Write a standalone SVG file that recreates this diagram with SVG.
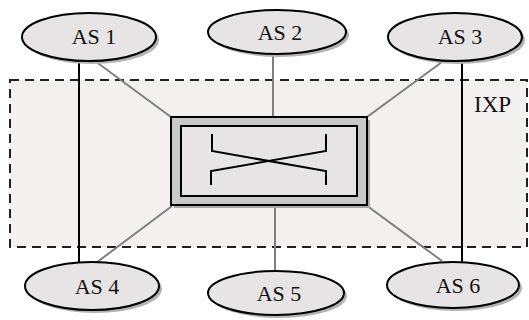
<svg xmlns="http://www.w3.org/2000/svg" width="529" height="320" viewBox="0 0 529 320">
<style>
.as ellipse.body{fill:#e6e4e4;stroke:#000;stroke-width:2}
.as ellipse.sh{fill:#b4b2b2}
.as text{font-family:"Liberation Serif","Times New Roman",serif;font-size:22px;fill:#111;text-anchor:middle}
.gl{stroke:#7f7f7f;stroke-width:2;fill:none}
.bl{stroke:#000;stroke-width:2;fill:none}
</style>
<rect x="10" y="80" width="517" height="167" fill="#f3f1f0" stroke="#231f20" stroke-width="2" stroke-dasharray="9,6"/>
<text x="474" y="112" font-family="Liberation Serif, serif" font-size="23" fill="#111">IXP</text>
<g id="connectors">
<line class="bl" x1="79" y1="61" x2="79" y2="263"/>
<line class="bl" x1="462" y1="61" x2="462" y2="262"/>
<line class="gl" x1="95" y1="61" x2="171" y2="117"/>
<line class="gl" x1="273" y1="53" x2="273" y2="117"/>
<line class="gl" x1="442" y1="62" x2="367" y2="117"/>
<line class="gl" x1="96" y1="263" x2="172" y2="206"/>
<line class="gl" x1="275" y1="205" x2="275" y2="271"/>
<line class="gl" x1="366" y1="205" x2="442" y2="261"/>
</g>
<g id="switch">
<rect x="174" y="120" width="196" height="88" fill="#a8a6a6"/>
<rect x="171" y="117" width="196" height="88" fill="#c8c8c8" stroke="#000" stroke-width="2"/>
<rect x="181" y="126" width="176" height="70" fill="#e6e4e4" stroke="#000" stroke-width="2"/>
<path class="bl" d="M212 134 V151 L326 171 V185 M326 134 V151 L211 171 V185"/>
</g>
<g id="as1" class="as"><ellipse class="sh" cx="92" cy="40" rx="67" ry="24"/><ellipse class="body" cx="89" cy="37" rx="67" ry="24"/><text x="94" y="44">AS 1</text></g>
<g id="as2" class="as"><ellipse class="sh" cx="280" cy="35" rx="69" ry="22"/><ellipse class="body" cx="277" cy="32" rx="69" ry="22"/><text x="280" y="40">AS 2</text></g>
<g id="as3" class="as"><ellipse class="sh" cx="458" cy="40" rx="67" ry="24"/><ellipse class="body" cx="455" cy="37" rx="67" ry="24"/><text x="460" y="44">AS 3</text></g>
<g id="as4" class="as"><ellipse class="sh" cx="95" cy="289" rx="67" ry="24"/><ellipse class="body" cx="92" cy="286" rx="67" ry="24"/><text x="97" y="294">AS 4</text></g>
<g id="as5" class="as"><ellipse class="sh" cx="279" cy="296" rx="68" ry="22"/><ellipse class="body" cx="276" cy="293" rx="68" ry="22"/><text x="279" y="301">AS 5</text></g>
<g id="as6" class="as"><ellipse class="sh" cx="456" cy="288" rx="66" ry="23"/><ellipse class="body" cx="453" cy="285" rx="66" ry="23"/><text x="458" y="293">AS 6</text></g>
</svg>
